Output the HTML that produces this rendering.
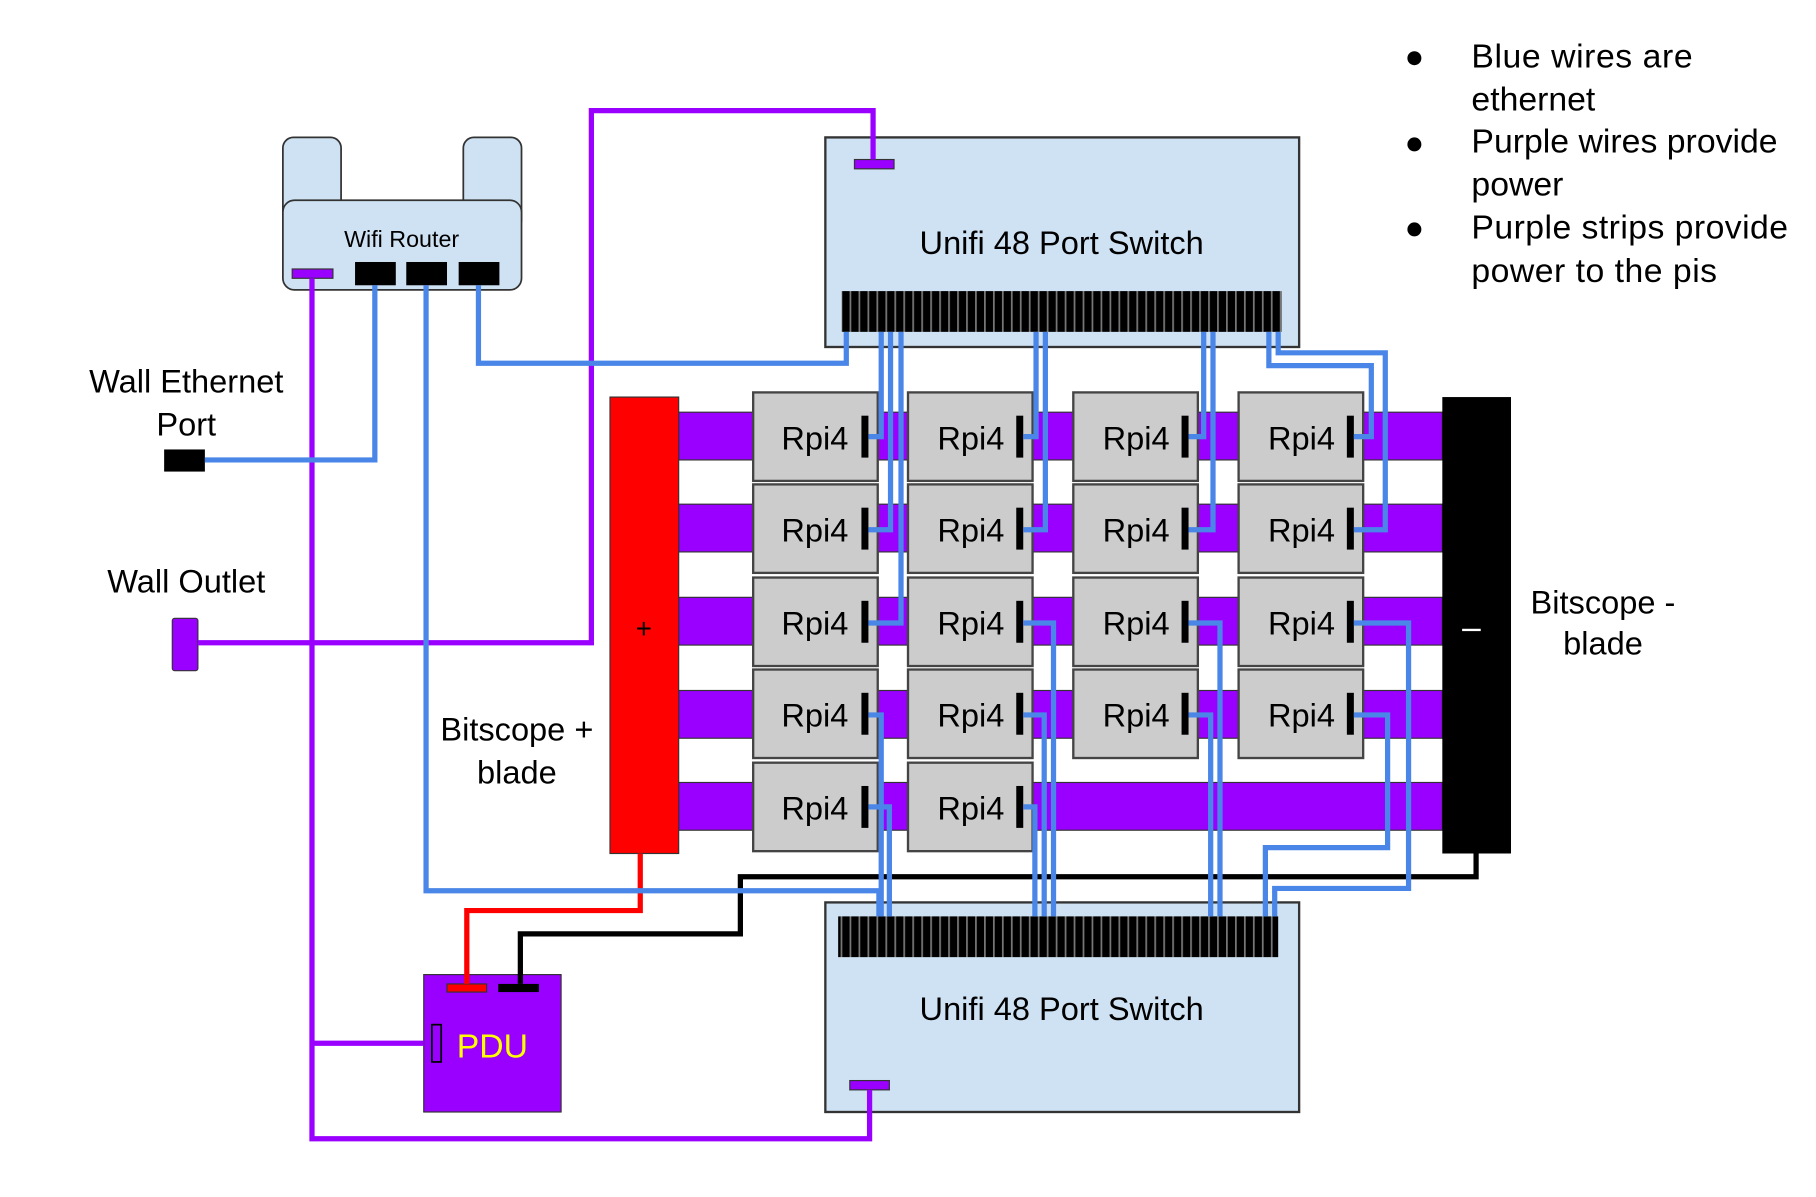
<!DOCTYPE html>
<html><head><meta charset="utf-8"><style>html,body{margin:0;padding:0;background:#fff}svg{display:block}text{font-family:"Liberation Sans",sans-serif}</style></head>
<body>
<svg width="1816" height="1197" viewBox="0 0 1560 1028" preserveAspectRatio="none" xmlns="http://www.w3.org/2000/svg">
<defs>
<pattern id="ports" x="0" y="0" width="7.7" height="10" patternUnits="userSpaceOnUse">
<rect width="7.7" height="10" fill="#000"/><rect x="6" width="1.5" height="10" fill="#777"/>
</pattern>
</defs>
<rect width="1560" height="1028" fill="#fff"/>
<g fill="#9900ff" stroke="#333" stroke-width="1">
<rect x="583" y="354" width="656" height="41"/>
<rect x="583" y="433" width="656" height="41"/>
<rect x="583" y="513" width="656" height="41"/>
<rect x="583" y="593" width="656" height="41"/>
<rect x="583" y="672" width="656" height="41"/>
</g>
<g fill="#cccccc" stroke="#444" stroke-width="2">
<rect x="647" y="337" width="107" height="76"/><rect x="780" y="337" width="107" height="76"/><rect x="922" y="337" width="107" height="76"/><rect x="1064" y="337" width="107" height="76"/>
<rect x="647" y="416" width="107" height="76"/><rect x="780" y="416" width="107" height="76"/><rect x="922" y="416" width="107" height="76"/><rect x="1064" y="416" width="107" height="76"/>
<rect x="647" y="496" width="107" height="76"/><rect x="780" y="496" width="107" height="76"/><rect x="922" y="496" width="107" height="76"/><rect x="1064" y="496" width="107" height="76"/>
<rect x="647" y="575" width="107" height="76"/><rect x="780" y="575" width="107" height="76"/><rect x="922" y="575" width="107" height="76"/><rect x="1064" y="575" width="107" height="76"/>
<rect x="647" y="655" width="107" height="76"/><rect x="780" y="655" width="107" height="76"/>
</g>
<g fill="#000" font-size="28" text-anchor="middle">
<text x="700" y="386">Rpi4</text><text x="834" y="386">Rpi4</text><text x="976" y="386">Rpi4</text><text x="1118" y="386">Rpi4</text>
<text x="700" y="465">Rpi4</text><text x="834" y="465">Rpi4</text><text x="976" y="465">Rpi4</text><text x="1118" y="465">Rpi4</text>
<text x="700" y="545">Rpi4</text><text x="834" y="545">Rpi4</text><text x="976" y="545">Rpi4</text><text x="1118" y="545">Rpi4</text>
<text x="700" y="624">Rpi4</text><text x="834" y="624">Rpi4</text><text x="976" y="624">Rpi4</text><text x="1118" y="624">Rpi4</text>
<text x="700" y="704">Rpi4</text><text x="834" y="704">Rpi4</text>
</g>
<g fill="#000">
<rect x="740" y="357" width="6" height="36"/><rect x="873" y="357" width="6" height="36"/><rect x="1015" y="357" width="6" height="36"/><rect x="1157" y="357" width="6" height="36"/>
<rect x="740" y="436" width="6" height="36"/><rect x="873" y="436" width="6" height="36"/><rect x="1015" y="436" width="6" height="36"/><rect x="1157" y="436" width="6" height="36"/>
<rect x="740" y="516" width="6" height="36"/><rect x="873" y="516" width="6" height="36"/><rect x="1015" y="516" width="6" height="36"/><rect x="1157" y="516" width="6" height="36"/>
<rect x="740" y="595" width="6" height="36"/><rect x="873" y="595" width="6" height="36"/><rect x="1015" y="595" width="6" height="36"/><rect x="1157" y="595" width="6" height="36"/>
<rect x="740" y="675" width="6" height="36"/><rect x="873" y="675" width="6" height="36"/>
</g>
<rect x="524" y="341" width="59" height="392" fill="#ff0000" stroke="#333"/>
<text x="553" y="548" font-size="24" text-anchor="middle" fill="#000">+</text>
<rect x="1239" y="341" width="59" height="392" fill="#000"/>
<rect x="1256" y="540" width="16" height="2" fill="#fff"/>
<rect x="709" y="118" width="407" height="180" fill="#cfe2f3" stroke="#333" stroke-width="2"/>
<rect x="723" y="250" width="378" height="35" fill="url(#ports)"/>
<rect x="734" y="137" width="34" height="8" fill="#9900ff" stroke="#333"/>
<text x="912" y="218" font-size="28" text-anchor="middle">Unifi 48 Port Switch</text>
<rect x="709" y="775" width="407" height="180" fill="#cfe2f3" stroke="#333" stroke-width="2"/>
<rect x="720" y="787" width="378" height="35" fill="url(#ports)"/>
<rect x="730" y="928" width="34" height="8" fill="#9900ff" stroke="#333"/>
<text x="912" y="876" font-size="28" text-anchor="middle">Unifi 48 Port Switch</text>
<rect x="243" y="118" width="50" height="80" rx="9" fill="#cfe2f3" stroke="#333" stroke-width="1.5"/>
<rect x="398" y="118" width="50" height="80" rx="9" fill="#cfe2f3" stroke="#333" stroke-width="1.5"/>
<rect x="243" y="172" width="205" height="77" rx="10" fill="#cfe2f3" stroke="#333" stroke-width="1.5"/>
<text x="345" y="212" font-size="20" text-anchor="middle">Wifi Router</text>
<rect x="251" y="231" width="35" height="8" fill="#9900ff" stroke="#333"/>
<rect x="305" y="225" width="35" height="20" fill="#000"/><rect x="349" y="225" width="35" height="20" fill="#000"/><rect x="394" y="225" width="35" height="20" fill="#000"/>
<rect x="364" y="837" width="118" height="118" fill="#9900ff" stroke="#333"/>
<rect x="384" y="845" width="34" height="7" fill="#ff0000" stroke="#333"/>
<rect x="428" y="845" width="35" height="7" fill="#000"/>
<rect x="371" y="880" width="8" height="32" fill="#9900ff" stroke="#000" stroke-width="1.5"/>
<text x="423" y="908" font-size="29" text-anchor="middle" fill="#ffff00">PDU</text>
<rect x="141" y="386" width="35" height="19" fill="#000"/>
<rect x="148" y="531" width="22" height="45" rx="2" fill="#9900ff" stroke="#333"/>
<g fill="none" stroke="#9900ff" stroke-width="4.5">
<polyline points="268,239 268,978 747,978 747,936"/>
<polyline points="268,896 364,896"/>
<polyline points="170,552 508,552 508,95 750,95 750,137"/>
</g>
<polyline points="550,733 550,782 401,782 401,845" fill="none" stroke="#ff0000" stroke-width="4.5"/>
<polyline points="1268,733 1268,753 636,753 636,802 447,802 447,845" fill="none" stroke="#000" stroke-width="4.5"/>
<g fill="none" stroke="#4a86e8" stroke-width="4.5">
<polyline points="176,395 322,395 322,245"/>
<polyline points="366,245 366,765 755,765 755,787"/>
<polyline points="411,245 411,312 727,312 727,285"/>
<polyline points="746,375 757,375 757,285"/>
<polyline points="746,455 765,455 765,285"/>
<polyline points="746,535 774,535 774,285"/>
<polyline points="879,375 890,375 890,285"/>
<polyline points="879,455 898,455 898,285"/>
<polyline points="1021,375 1034,375 1034,285"/>
<polyline points="1021,455 1042,455 1042,285"/>
<polyline points="1163,375 1178,375 1178,314 1090,314 1090,285"/>
<polyline points="1163,455 1190,455 1190,303 1098,303 1098,285"/>
<polyline points="746,614 757,614 757,787"/>
<polyline points="746,693 764,693 764,787"/>
<polyline points="879,535 905,535 905,787"/>
<polyline points="879,614 897,614 897,787"/>
<polyline points="879,693 889,693 889,787"/>
<polyline points="1021,535 1048,535 1048,787"/>
<polyline points="1021,614 1040,614 1040,787"/>
<polyline points="1163,535 1210,535 1210,763 1095,763 1095,787"/>
<polyline points="1163,614 1192,614 1192,728 1087,728 1087,787"/>
</g>
<g font-size="28" text-anchor="middle" fill="#000">
<text x="160" y="337">Wall Ethernet</text><text x="160" y="374">Port</text>
<text x="160" y="509">Wall Outlet</text>
<text x="444" y="636">Bitscope +</text><text x="444" y="673">blade</text>
<text x="1377" y="527">Bitscope -</text><text x="1377" y="562">blade</text>
</g>
<g font-size="29" fill="#000">
<circle cx="1215" cy="50" r="6"/><circle cx="1215" cy="124" r="6"/><circle cx="1215" cy="197" r="6"/>
<text x="1264" y="58" textLength="190">Blue wires are</text><text x="1264" y="95">ethernet</text>
<text x="1264" y="131" textLength="263">Purple wires provide</text><text x="1264" y="168">power</text>
<text x="1264" y="205" textLength="272">Purple strips provide</text><text x="1264" y="242" textLength="211">power to the pis</text>
</g>
</svg>
</body></html>
